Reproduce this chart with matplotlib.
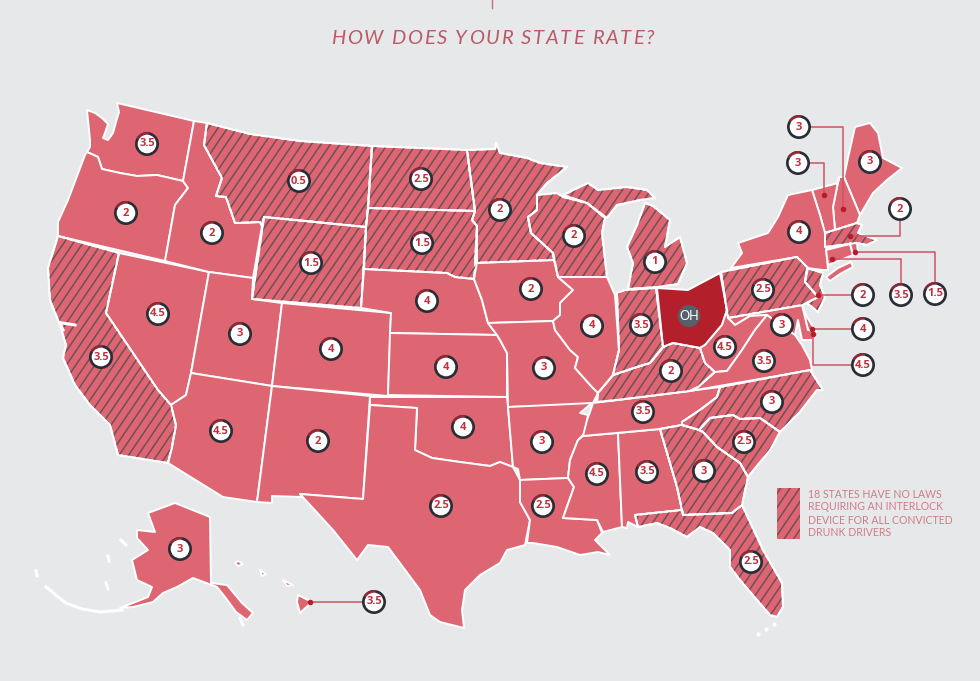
import numpy as np
import matplotlib
matplotlib.use('Agg')
import matplotlib.pyplot as plt
from matplotlib.patches import Polygon, Circle, Wedge, Rectangle
from matplotlib.collections import LineCollection

# outlines, in image pixels
shapes = {
    'WA': [(117,103),(194,121),(183,181),(157,175),(137,176),(120,173),(102,169),(98,157),(87,152),(90,147),(90,140),(87,110),(95,113),(102,118),(108,124),(105,133),(103,138),(108,140),(113,133),(116,122),(119,112)],
    'OR': [(87,152),(98,157),(102,169),(120,173),(137,176),(157,175),(183,181),(188,188),(175,205),(173,216),(165,261),(58,236),(58,222),(68,200),(85,155)],
    'CA': [(58,236),(119,253),(106,313),(158,390),(171,405),(176,425),(172,447),(168,463),(118,455),(110,425),(90,405),(75,385),(63,358),(66,345),(60,325),(50,300),(48,268)],
    'NV': [(119,253),(209,272),(191,373),(186,395),(171,405),(158,390),(106,313)],
    'ID': [(194,121),(207,123),(204,145),(222,178),(216,196),(226,197),(235,223),(260,222),(262,226),(253,278),(209,272),(165,261),(173,216),(175,205),(188,188),(183,181)],
    'MT': [(207,123),(250,134),(300,141),(372,146),(368,208),(366,227),(264,217),(262,226),(260,222),(235,223),(226,197),(216,196),(222,178),(204,145)],
    'WY': [(264,217),(366,227),(361,308),(252,299)],
    'UT': [(209,272),(253,278),(252,299),(282,303),(272,386),(191,373)],
    'CO': [(282,303),(391,313),(388,396),(272,386)],
    'AZ': [(191,373),(272,386),(257,502),(223,497),(168,463),(172,447),(176,425),(171,405),(186,395)],
    'NM': [(272,386),(370,396),(363,499),(300,494),(302,497),(272,496),(272,503),(257,502)],
    'ND': [(372,146),(467,150),(475,211),(368,208)],
    'SD': [(368,208),(475,211),(472,220),(477,226),(477,262),(474,279),(455,277),(447,273),(364,269),(366,227)],
    'NE': [(364,269),(447,273),(455,277),(474,279),(482,300),(488,323),(497,335),(390,333),(391,313),(361,308)],
    'KS': [(390,333),(497,335),(500,340),(507,353),(507,397),(388,395)],
    'OK': [(370,397),(507,397),(508,407),(513,467),(500,462),(490,466),(460,462),(432,458),(415,450),(417,408),(370,405)],
    'TX': [(370,405),(417,408),(415,450),(432,458),(460,462),(490,466),(500,462),(513,467),(520,480),(520,502),(530,520),(525,545),(507,550),(500,563),(480,575),(465,590),(462,610),(464,628),(440,622),(430,615),(420,590),(388,547),(368,545),(357,560),(333,530),(300,494),(363,499)],
    'MN': [(467,150),(495,149),(496,143),(500,153),(527,158),(540,163),(567,167),(547,183),(537,195),(537,210),(528,217),(531,233),(553,253),(554,260),(475,263),(477,226),(472,220),(475,211)],
    'IA': [(475,263),(554,260),(558,277),(573,290),(560,303),(560,315),(553,321),(488,323),(482,300),(474,279)],
    'MO': [(488,323),(553,321),(555,330),(570,350),(578,357),(575,368),(592,387),(598,393),(593,403),(582,405),(508,407),(507,353),(500,340),(497,335)],
    'AR': [(508,407),(592,403),(580,413),(588,415),(585,433),(578,440),(570,460),(568,478),(520,480),(518,469),(513,467)],
    'LA': [(520,480),(568,478),(574,487),(563,518),(597,520),(602,533),(595,540),(610,555),(598,552),(580,555),(557,547),(533,543),(527,543),(530,520),(520,502)],
    'MS': [(583,436),(618,433),(622,527),(603,532),(597,520),(563,518),(574,487),(568,478),(570,460),(578,440)],
    'AL': [(618,433),(660,429),(677,487),(682,510),(635,515),(638,527),(628,522),(627,528),(622,527)],
    'TN': [(593,403),(617,400),(720,387),(717,397),(700,410),(682,422),(682,425),(660,429),(583,436),(587,420),(590,412)],
    'KY': [(598,393),(597,402),(617,400),(690,391),(698,387),(715,372),(705,363),(700,348),(673,343),(663,347),(650,363),(637,367),(613,375)],
    'IL': [(558,277),(607,277),(615,295),(619,350),(613,375),(598,393),(592,387),(575,368),(578,357),(570,350),(555,330),(553,321),(560,315),(560,303),(573,290)],
    'IN': [(617,293),(625,290),(656,288),(663,347),(650,363),(637,367),(613,375),(619,350)],
    'OH': [(657,288),(688,290),(720,273),(727,310),(722,325),(705,345),(700,348),(673,343),(663,347)],
    'MI': [(628,289),(658,287),(678,284),(687,263),(680,237),(665,247),(670,220),(653,206),(645,203),(637,225),(627,247),(633,263)],
    'MIU': [(563,195),(588,183),(598,190),(627,187),(647,190),(655,198),(640,200),(617,205),(607,218),(587,203)],
    'WI': [(537,195),(557,193),(563,197),(587,203),(605,218),(602,233),(607,277),(558,277),(553,253),(531,233),(528,217),(537,210)],
    'ME': [(855,127),(870,123),(878,133),(883,158),(902,168),(887,180),(873,193),(860,215),(844,177),(848,158)],
    'NH': [(839,177),(844,177),(860,215),(857,223),(835,230),(833,207)],
    'VT': [(812,190),(838,183),(839,177),(833,207),(835,230),(825,233),(820,215)],
    'NY': [(788,195),(812,190),(820,215),(825,233),(828,270),(823,270),(807,268),(797,257),(731,268),(742,253),(738,243),(768,233),(778,217)],
    'LI': [(826,277),(838,268),(851,262),(853,267),(840,274),(830,281)],
    'MA': [(825,233),(857,223),(862,225),(858,233),(877,240),(867,245),(857,243),(825,247)],
    'CT': [(826,250),(850,244),(853,255),(828,265)],
    'RI': [(850,243),(857,243),(858,253),(853,255)],
    'PA': [(721,272),(797,257),(808,268),(805,282),(818,297),(803,305),(728,318)],
    'NJ': [(807,268),(823,273),(820,285),(825,297),(818,312),(807,303),(818,297),(805,282)],
    'DE': [(802,305),(807,317),(815,330),(808,330)],
    'MD': [(728,318),(802,305),(808,330),(816,331),(813,340),(802,340),(798,320),(795,335),(780,325),(767,315),(750,316),(735,325)],
    'WV': [(705,345),(722,325),(727,310),(728,318),(735,325),(750,316),(767,315),(755,330),(742,350),(727,371),(715,372),(705,363),(700,348)],
    'VA': [(690,391),(698,387),(715,372),(727,371),(742,350),(755,330),(767,315),(780,325),(795,335),(802,345),(810,360),(812,370)],
    'NC': [(720,387),(810,370),(823,390),(817,390),(800,412),(780,432),(760,418),(740,419),(733,415),(710,418),(699,430),(682,425),(682,422),(700,410),(717,397)],
    'SC': [(699,430),(710,418),(733,415),(740,419),(760,418),(780,432),(770,450),(748,477),(740,463),(717,447),(703,432)],
    'GA': [(660,429),(682,425),(699,430),(703,432),(717,447),(740,463),(748,477),(742,505),(732,513),(683,515),(682,510),(677,487)],
    'FL': [(635,515),(682,510),(683,515),(732,513),(742,505),(763,550),(782,583),(783,607),(777,617),(770,615),(757,600),(740,580),(730,567),(730,550),(713,533),(700,527),(687,537),(670,528),(657,523),(638,527)],
    'AK': [(148,513),(175,503),(210,517),(211,583),(227,585),(242,603),(253,613),(247,620),(236,612),(225,597),(217,587),(193,578),(177,587),(163,593),(153,602),(133,607),(120,608),(133,603),(148,597),(152,587),(137,580),(132,560),(148,550),(137,538),(137,530),(155,532)],
    'HI': [(298,595),(312,602),(300,613),(297,602)],
    'HI2': [(238,561),(243,564),(238,566),(235,563)],
    'HI3': [(260,570),(266,574),(262,576)],
    'HI4': [(283,580),(293,585),(287,586)],
}
hatched = ['CA', 'MT', 'WY', 'ND', 'SD', 'MN', 'WI', 'MI', 'MIU', 'IN', 'KY', 'NC', 'SC', 'GA', 'FL', 'PA', 'NJ', 'MA']

# rating badges
badge_vals = ['3.5','2','3.5','4.5','2','0.5','1.5','3','4.5','4','2','2.5','1.5','4','4','4','2.5','2','2','3','3','2.5','2','4','4.5','1','3.5','2','3.5','3.5','3','2.5','2.5','3','3.5','4.5','3','2.5','4','3','3','3','2','2','3.5','1.5','4','4.5','3','3.5']
badge_x = [147,126,101,158,212,299,311,240,221,331,318,421,422,427,446,463,441,500,531,544,542,543,574,592,597,655,641,671,643,647,704,751,744,772,764,725,782,763,799,870,799,798,900,863,901,935,863,863,180,374]
badge_y = [144,213,357,314,233,181,263,334,431,349,441,179,243,301,367,427,506,210,289,368,442,506,236,326,474,262,325,371,412,472,471,562,442,402,361,347,325,290,232,162,127,163,209,295,295,294,329,365,549,602]

# leader lines from badge to state
leaders = [
    [(799,127),(843,127),(843,209)],
    [(798,163),(824,163),(824,195)],
    [(900,209),(900,236),(850,236)],
    [(935,294),(935,252),(855,252)],
    [(901,295),(901,259),(832,259)],
    [(863,295),(818,295)],
    [(863,329),(812,329)],
    [(863,365),(813,365),(813,334)],
    [(374,602),(310,602)],
]
# white slivers: islands and bays
white_lines = [
    [(122,610),(100,612),(82,609),(66,603),(58,597),(50,590),(46,587)],
    [(36,571),(37,576)],
    [(121,540),(126,545)],
    [(108,556),(109,561)],
    [(106,583),(108,589)],
    [(60,323),(63,330)],
    [(62,323),(75,325)],
    [(240,618),(243,625)],
]
keys = [(758,634),(766,629),(774,624)]
legend_lines = ['18 STATES HAVE NO LAWS', 'REQUIRING AN INTERLOCK', 'DEVICE FOR ALL CONVICTED', 'DRUNK DRIVERS']
title = 'HOW DOES YOUR STATE RATE?'

BG = '#e7e8ea'
PINK = '#dd6672'
DARK_RED = '#b3202c'
HATCH = '#6f4f58'

fig = plt.figure(figsize=(9.8, 6.81), dpi=100, facecolor=BG)
ax = fig.add_axes([0, 0, 1, 1])
ax.set_xlim(0, 980)
ax.set_ylim(681, 0)
ax.axis('off')


def add_hatch(patch):
    # diagonal stripes clipped to the shape
    segs = [[(c, 681), (c + 0.68 * 681, 0)] for c in np.arange(-500, 980, 9.5)]
    lc = LineCollection(segs, colors=HATCH, linewidths=1.1, zorder=2)
    ax.add_collection(lc)
    lc.set_clip_path(patch)


def spaced_text(s, x0, x1, y, **kw):
    # matplotlib has no letter spacing, so place the letters one by one
    renderer = fig.canvas.get_renderer()
    t = ax.text(0, y, s, **kw)
    natural = t.get_window_extent(renderer).width
    t.remove()
    extra = (x1 - x0 - natural) / (len(s) - 1)
    for i, ch in enumerate(s):
        t = ax.text(0, y, s[:i] + '|', **kw)
        w = t.get_window_extent(renderer).width
        t.set_text('|')
        w -= t.get_window_extent(renderer).width
        t.remove()
        ax.text(x0 + w + i * extra, y, ch, ha='left', va='baseline', **kw)


for name, pts in shapes.items():
    color = DARK_RED if name == 'OH' else PINK
    p = Polygon(pts, closed=True, facecolor=color, edgecolor='white', linewidth=1.4, zorder=1, joinstyle='round')
    ax.add_patch(p)
    if name in hatched:
        add_hatch(p)
        ax.add_patch(Polygon(pts, closed=True, fill=False, edgecolor='white', linewidth=1.4, zorder=3, joinstyle='round'))

for line in white_lines:
    ax.plot(*zip(*line), color='white', lw=2.2, zorder=3)
ax.plot(*zip(*keys), 'o', color='white', ms=2, zorder=3)

for line in leaders:
    xs, ys = zip(*line)
    ax.plot(xs, ys, color='#cc5562', lw=1.1, zorder=4)
    ax.plot(xs[-1], ys[-1], 'o', color='#b3202c', ms=3, zorder=4)

for x, y, v in zip(badge_x, badge_y, badge_vals):
    ax.add_patch(Circle((x, y), 12, facecolor='#2b2d36', edgecolor='none', zorder=5))
    ax.add_patch(Wedge((x, y), 12, -90 - 60, -90 + 10, facecolor='#8e2a36', edgecolor='none', zorder=5))
    ax.add_patch(Circle((x, y), 9.3, facecolor='white', edgecolor='none', zorder=6))
    ax.text(x, y, v, ha='center', va='center', color='#c0303f', fontsize=8, fontweight='bold', family='Open Sans', zorder=7)

ax.add_patch(Circle((689, 316), 11, facecolor='#56606b', edgecolor='none', zorder=5))
ax.text(689, 316, 'OH', ha='center', va='center', color='white', fontsize=9, family='Lato', zorder=6)

# title
ax.plot([492, 492], [0, 8], color='#c4707a', lw=1)
spaced_text(title, 331, 654, 44, color='#bb5a66', fontsize=14.5, style='italic', family='Lato')

# legend
leg = Rectangle((777, 488), 23, 51, facecolor=PINK, edgecolor='none', zorder=1)
ax.add_patch(leg)
add_hatch(leg)
for i, line in enumerate(legend_lines):
    ax.text(808, 494 + i * 13, line, ha='left', va='center', color='#cf7c86', fontsize=7.6, family='Lato')

fig.savefig('out.png', dpi=100, facecolor=BG)
